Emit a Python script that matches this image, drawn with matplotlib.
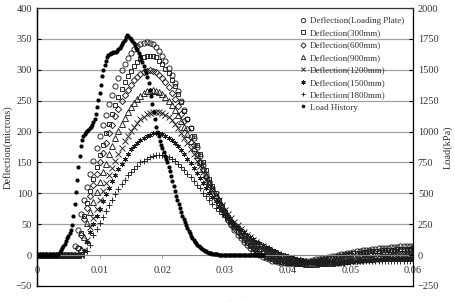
import numpy as np
import matplotlib
matplotlib.use("Agg")
import matplotlib.pyplot as plt

plt.rcParams['font.family'] = ['Liberation Serif', 'DejaVu Serif']

# deflection readings (microns), one sample every 0.5 ms from 0 to 60 ms
defl_lp = [0, 0, 0, 0, 0, 0, 0, 0, 0, 0,
           0, 0, 15, 40, 67, 89, 111, 132, 153, 173,
           192, 210, 227, 244, 259, 274, 287, 299, 309, 319,
           327, 333, 338, 342, 344, 345, 344, 341, 337, 331,
           323, 314, 303, 291, 278, 265, 250, 235, 220, 205,
           190, 175, 160, 146, 132, 119, 107, 95, 85, 75,
           66, 57, 48, 40, 33, 27, 21, 16, 11, 7,
           3, 0, -3, -5, -7, -9, -10, -11, -12, -12,
           -12, -12, -12, -11, -11, -10, -10, -9, -8, -7,
           -6, -5, -4, -3, -2, -1, 0, 1, 2, 3,
           4, 5, 6, 7, 8, 8, 9, 10, 10, 11,
           11, 12, 12, 13, 13, 13, 14, 14, 14, 15,
           15]
defl_300 = [0, 0, 0, 0, 0, 0, 0, 0, 0, 0,
            0, 0, 0, 12, 36, 63, 84, 104, 124, 143,
            162, 179, 197, 213, 228, 243, 256, 269, 280, 290,
            298, 306, 312, 317, 320, 322, 323, 322, 320, 315,
            310, 302, 294, 284, 273, 260, 248, 234, 220, 206,
            192, 178, 164, 150, 137, 124, 112, 100, 89, 79,
            70, 61, 53, 45, 38, 31, 25, 19, 14, 10,
            6, 3, 0, -3, -5, -7, -9, -10, -11, -12,
            -13, -13, -13, -13, -12, -12, -11, -11, -10, -9,
            -8, -7, -6, -5, -4, -3, -2, -1, 0, 1,
            2, 3, 3, 4, 5, 5, 6, 6, 7, 7,
            8, 8, 9, 9, 9, 10, 10, 10, 10, 10,
            11]
defl_600 = [0, 0, 0, 0, 0, 0, 0, 0, 0, 0,
            0, 0, 0, 11, 33, 58, 77, 96, 114, 132,
            150, 166, 182, 197, 211, 225, 237, 249, 259, 268,
            276, 283, 289, 293, 296, 298, 299, 298, 296, 292,
            287, 280, 272, 262, 252, 241, 229, 217, 204, 191,
            178, 164, 151, 139, 126, 115, 103, 93, 83, 73,
            65, 57, 50, 44, 38, 32, 27, 22, 17, 13,
            9, 6, 3, 0, -2, -4, -6, -8, -9, -10,
            -11, -12, -13, -13, -13, -13, -13, -12, -12, -11,
            -11, -10, -9, -8, -7, -6, -5, -4, -3, -2,
            -2, -1, 0, 0, 1, 1, 2, 2, 3, 3,
            4, 4, 4, 5, 5, 5, 6, 6, 6, 6,
            7]
defl_900 = [0, 0, 0, 0, 0, 0, 0, 0, 0, 0,
            0, 0, 0, 0, 10, 29, 52, 69, 86, 102,
            118, 134, 148, 163, 176, 189, 201, 212, 222, 231,
            239, 247, 253, 258, 262, 265, 266, 267, 266, 264,
            261, 256, 250, 243, 235, 226, 217, 207, 196, 185,
            174, 162, 151, 140, 129, 118, 108, 98, 89, 80,
            72, 64, 57, 51, 45, 39, 34, 29, 24, 20,
            16, 12, 9, 6, 3, 0, -2, -4, -6, -8,
            -9, -10, -11, -12, -13, -13, -14, -14, -14, -14,
            -13, -13, -13, -12, -12, -11, -11, -10, -9, -9,
            -8, -7, -7, -6, -5, -5, -4, -4, -3, -3,
            -2, -2, -1, -1, 0, 0, 1, 1, 1, 2,
            2]
defl_1200 = [0, 0, 0, 0, 0, 0, 0, 0, 0, 0,
             0, 0, 0, 0, 0, 9, 25, 45, 60, 75,
             89, 103, 116, 129, 141, 153, 164, 174, 184, 193,
             201, 208, 214, 220, 224, 228, 230, 232, 232, 231,
             230, 227, 223, 218, 212, 205, 198, 190, 181, 172,
             163, 153, 144, 134, 124, 115, 106, 97, 89, 81,
             73, 66, 60, 54, 48, 43, 38, 33, 29, 25,
             21, 17, 14, 11, 8, 5, 3, 1, -1, -3,
             -5, -6, -8, -9, -10, -11, -12, -12, -13, -13,
             -13, -13, -13, -13, -13, -12, -12, -12, -11, -11,
             -10, -10, -9, -9, -8, -8, -7, -7, -6, -6,
             -5, -5, -4, -4, -4, -3, -3, -3, -2, -2,
             -2]
defl_1500 = [0, 0, 0, 0, 0, 0, 0, 0, 0, 0,
             0, 0, 0, 0, 0, 7, 21, 38, 51, 63,
             75, 87, 99, 109, 120, 130, 139, 148, 156, 164,
             171, 177, 182, 187, 190, 193, 195, 197, 197, 197,
             196, 193, 190, 186, 181, 176, 170, 163, 156, 149,
             141, 133, 125, 117, 109, 101, 94, 87, 80, 73,
             67, 61, 55, 50, 45, 41, 37, 33, 29, 26,
             22, 19, 16, 13, 11, 8, 6, 4, 2, 0,
             -2, -3, -5, -6, -7, -8, -9, -10, -11, -11,
             -12, -12, -12, -12, -12, -12, -12, -12, -12, -11,
             -11, -11, -10, -10, -10, -9, -9, -9, -8, -8,
             -8, -7, -7, -7, -7, -6, -6, -6, -6, -6,
             -5]
defl_1800 = [0, 0, 0, 0, 0, 0, 0, 0, 0, 0,
             0, 0, 0, 0, 0, 0, 6, 17, 32, 42,
             52, 62, 72, 81, 90, 99, 107, 115, 122, 129,
             135, 140, 145, 150, 153, 156, 159, 161, 162, 162,
             162, 161, 159, 156, 152, 148, 143, 138, 132, 126,
             120, 114, 108, 101, 95, 89, 83, 77, 72, 67,
             62, 57, 52, 47, 43, 39, 35, 31, 27, 23,
             19, 15, 12, 9, 6, 3, 1, -1, -3, -4,
             -5, -6, -7, -8, -9, -9, -10, -10, -10, -10,
             -10, -10, -10, -10, -10, -10, -10, -10, -10, -10,
             -10, -10, -10, -10, -10, -10, -10, -9, -9, -9,
             -9, -9, -9, -9, -9, -9, -9, -9, -9, -9,
             -9]

# load history (kPa), one sample every 0.2 ms from 0 to 36 ms
load_kpa = [0, 0, 0, 0, 0, 0, 0, 0, 0, 0,
            0, 0, 0, 0, 0, 0, 0, 10, 25, 40,
            55, 70, 90, 115, 135, 155, 175, 200, 240, 320,
            415, 510, 610, 710, 805, 880, 930, 960, 980, 995,
            1005, 1015, 1030, 1040, 1050, 1075, 1105, 1140, 1200, 1255,
            1310, 1380, 1450, 1495, 1535, 1575, 1600, 1620, 1630, 1635,
            1635, 1640, 1640, 1645, 1650, 1665, 1680, 1690, 1705, 1725,
            1745, 1765, 1780, 1770, 1760, 1750, 1735, 1720, 1700, 1680,
            1660, 1635, 1610, 1585, 1560, 1530, 1500, 1470, 1440, 1395,
            1340, 1285, 1225, 1160, 1100, 1040, 995, 960, 925, 895,
            865, 835, 805, 780, 750, 715, 680, 640, 600, 560,
            520, 480, 445, 415, 385, 350, 320, 295, 270, 245,
            220, 195, 175, 155, 140, 125, 110, 95, 85, 75,
            65, 55, 50, 40, 35, 30, 25, 20, 15, 15,
            10, 10, 5, 5, 5, 0, 0, 0, 0, 0,
            0, 0, 0, 0, 0, 0, 0, 0, 0, 0,
            0, 0, 0, 0, 0, 0, 0, 0, 0, 0,
            0, 0, 0, 0, 0, 0, 0, 0, 0, 0,
            0]

defl_series = [
    ("Deflection(Loading Plate)", defl_lp, 'o'),
    ("Deflection(300mm)", defl_300, 's'),
    ("Deflection(600mm)", defl_600, 'D'),
    ("Deflection(900mm)", defl_900, '^'),
    ("Deflection(1200mm)", defl_1200, 'x'),
    ("Deflection(1500mm)", defl_1500, (6, 2, 0)),
    ("Deflection(1800mm)", defl_1800, '+'),
]
x_ticks = [0, 0.01, 0.02, 0.03, 0.04, 0.05, 0.06]
x_labels = ["0", "0.01", "0.02", "0.03", "0.04", "0.05", "0.06"]

fig = plt.figure(figsize=(4.55, 3.02), dpi=100)
ax = fig.add_axes([0.0813, 0.053, 0.8264, 0.9205])
ax2 = ax.twinx()

handles = []
for name, vals, mk in defl_series:
    t = np.arange(len(vals)) * 0.0005
    size = 3.2 if mk in ('D', 's') else 3.7
    h, = ax.plot(t, vals, linestyle='none', marker=mk, markersize=size,
                 markerfacecolor='none', markeredgecolor='#1e1e1e',
                 markeredgewidth=0.65, label=name)
    handles.append(h)

t_load = np.arange(len(load_kpa)) * 0.0002
h, = ax2.plot(t_load, load_kpa, linestyle='none', marker='o', markersize=3.0,
              color='black', markeredgewidth=0, label='Load History')
handles.append(h)

ax.set_xlim(0, 0.06)
ax.set_ylim(-50, 400)
ax.set_yticks(np.arange(-50, 401, 50))
ax2.set_ylim(-250, 2000)
ax2.set_yticks(np.arange(-250, 2001, 250))

for y in range(50, 400, 50):
    ax.axhline(y, color='#a0a0a0', linewidth=0.9, zorder=0)

# horizontal axis crosses at zero, frame border stays at -50
ax.spines['bottom'].set_position(('data', 0))
ax.spines['bottom'].set_color('#888888')
ax.spines['top'].set_visible(False)
ax.spines['right'].set_visible(False)
ax.spines['left'].set_linewidth(0.9)
for s in ax2.spines.values():
    s.set_linewidth(0.9)
ax2.spines['top'].set_color('#333333')

ax.set_xticks(x_ticks)
ax.set_xticklabels(x_labels)
ax.tick_params(axis='x', direction='out', length=2.5, width=0.6,
               color='#888888', labelsize=7.5, pad=5, labelcolor='#333333')
ax.tick_params(axis='y', direction='in', length=3, width=0.8,
               labelsize=7.5, labelcolor='#333333')
ax2.tick_params(axis='y', direction='in', length=3, width=0.8,
                labelsize=7.5, labelcolor='#333333')

ax.set_ylabel("Deflection(microns)", fontsize=7.5, color='#333333', labelpad=2)
ax2.set_ylabel("Load(kPa)", fontsize=7.5, color='#333333', labelpad=3)
fig.text(0.5, -0.014, "Time(sec)", ha='center', va='center',
         fontsize=7.5, color='#333333')

ax2.legend(handles=handles, loc='upper left', bbox_to_anchor=(0.643, 0.966),
           bbox_transform=fig.transFigure, frameon=False, fontsize=6.5,
           labelspacing=0.45, handletextpad=0.2, handlelength=1.0,
           borderpad=0.2, markerscale=0.85, labelcolor='#333333')

fig.savefig("out.png", dpi=100)
